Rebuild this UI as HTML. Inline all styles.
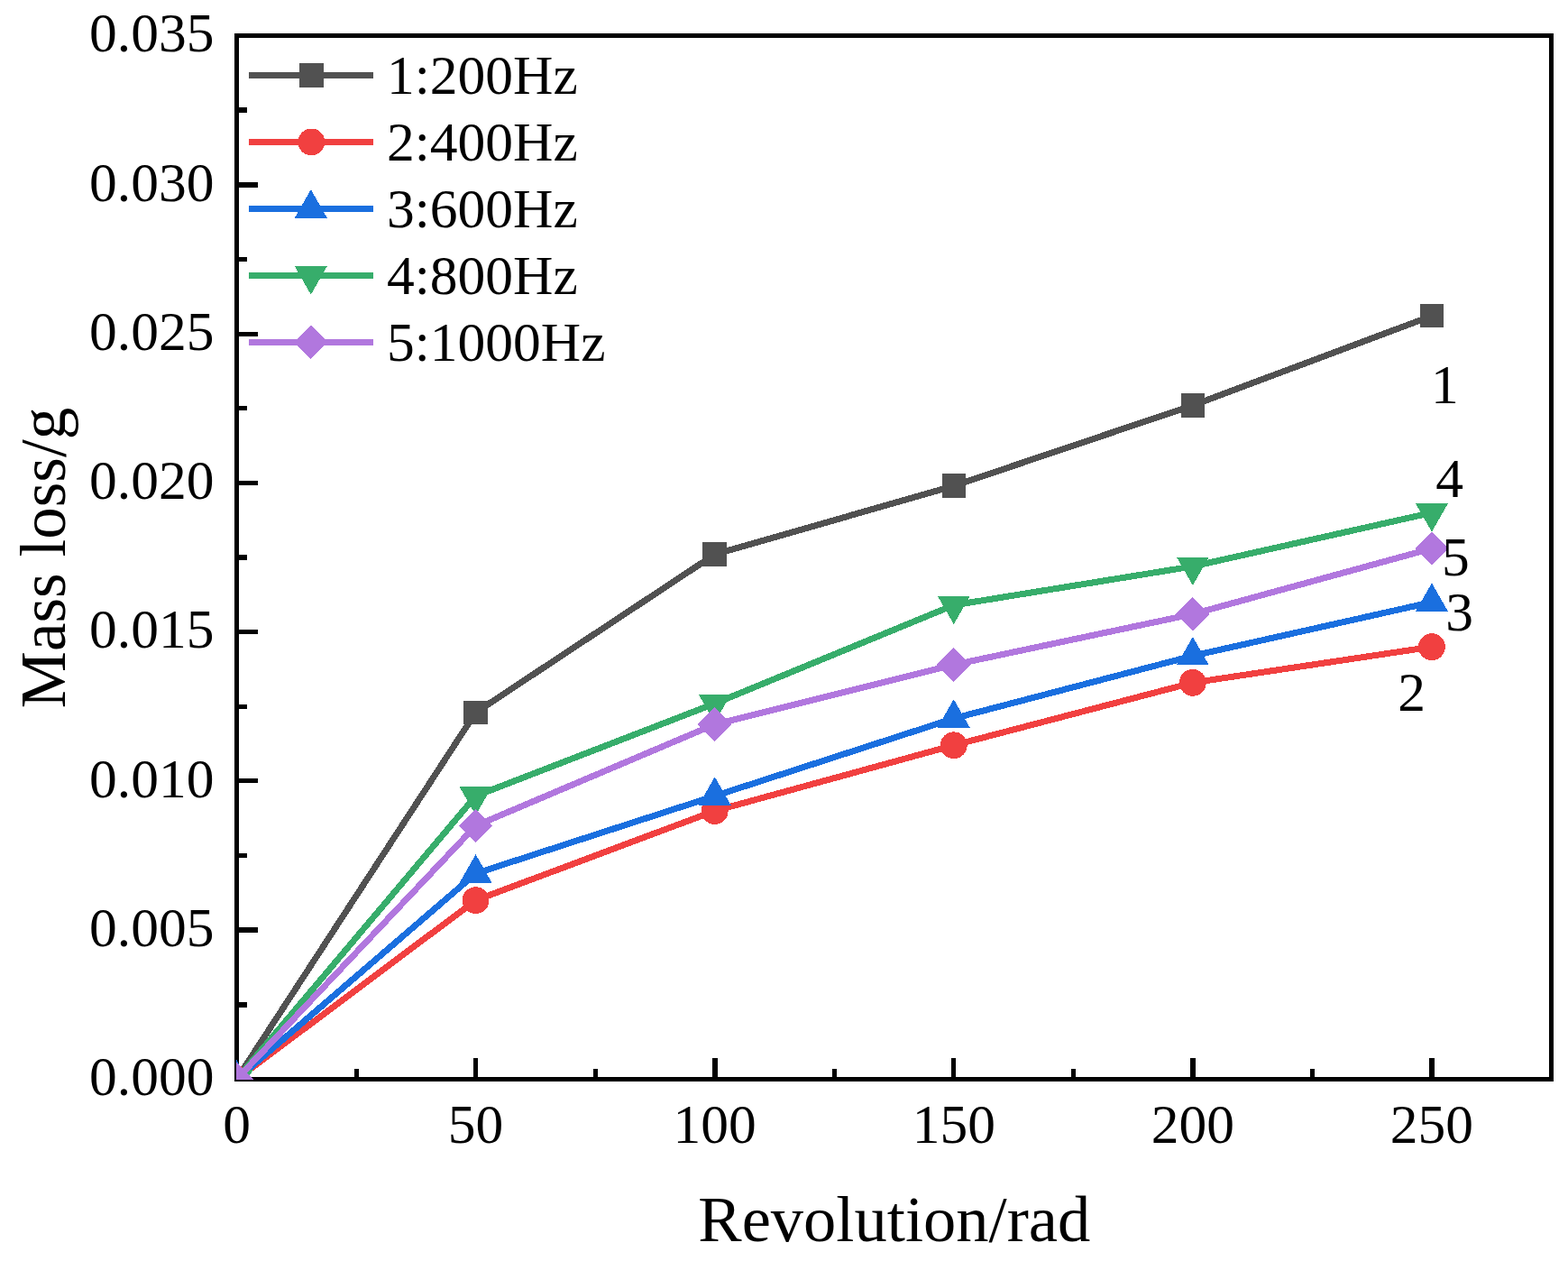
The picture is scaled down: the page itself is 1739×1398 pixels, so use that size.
<!DOCTYPE html>
<html lang="en"><head><meta charset="utf-8"><title>Mass loss vs revolution</title>
<style>html,body{margin:0;padding:0;background:#fff;}body{width:1739px;height:1398px;overflow:hidden;}svg{display:block;}text{font-family:'Liberation Serif', serif;fill:#000;}</style>
</head><body>
<svg width="1739" height="1398" viewBox="0 0 1739 1398">
<rect x="0" y="0" width="1739" height="1398" fill="#ffffff"/>
<g id="axes" shape-rendering="crispEdges">
<rect x="262.5" y="39.5" width="1458" height="1157" fill="none" stroke="#000" stroke-width="5"/>
<rect x="393" y="1185" width="5" height="11" fill="#000"/>
<rect x="525" y="1173" width="5" height="23" fill="#000"/>
<rect x="658" y="1185" width="5" height="11" fill="#000"/>
<rect x="790" y="1173" width="6" height="23" fill="#000"/>
<rect x="923" y="1185" width="5" height="11" fill="#000"/>
<rect x="1055" y="1173" width="5" height="23" fill="#000"/>
<rect x="1188" y="1185" width="5" height="11" fill="#000"/>
<rect x="1320" y="1173" width="6" height="23" fill="#000"/>
<rect x="1453" y="1185" width="5" height="11" fill="#000"/>
<rect x="1585" y="1173" width="6" height="23" fill="#000"/>
<rect x="263" y="1111" width="11" height="6" fill="#000"/>
<rect x="263" y="1028" width="23" height="6" fill="#000"/>
<rect x="263" y="946" width="11" height="5" fill="#000"/>
<rect x="263" y="863" width="23" height="5" fill="#000"/>
<rect x="263" y="781" width="11" height="5" fill="#000"/>
<rect x="263" y="698" width="23" height="5" fill="#000"/>
<rect x="263" y="615" width="11" height="6" fill="#000"/>
<rect x="263" y="533" width="23" height="5" fill="#000"/>
<rect x="263" y="450" width="11" height="5" fill="#000"/>
<rect x="263" y="368" width="23" height="5" fill="#000"/>
<rect x="263" y="285" width="11" height="5" fill="#000"/>
<rect x="263" y="202" width="23" height="6" fill="#000"/>
<rect x="263" y="119" width="11" height="6" fill="#000"/>
</g>
<g id="ticklabels" font-size="61.5">
<text x="262.5" y="1267" text-anchor="middle">0</text>
<text x="527.59" y="1267" text-anchor="middle">50</text>
<text x="792.68" y="1267" text-anchor="middle">100</text>
<text x="1057.77" y="1267" text-anchor="middle">150</text>
<text x="1322.86" y="1267" text-anchor="middle">200</text>
<text x="1587.95" y="1267" text-anchor="middle">250</text>
<text x="237.4" y="1214.3" text-anchor="end">0.000</text>
<text x="237.4" y="1049.01" text-anchor="end">0.005</text>
<text x="237.4" y="883.73" text-anchor="end">0.010</text>
<text x="237.4" y="718.44" text-anchor="end">0.015</text>
<text x="237.4" y="553.16" text-anchor="end">0.020</text>
<text x="237.4" y="387.87" text-anchor="end">0.025</text>
<text x="237.4" y="222.59" text-anchor="end">0.030</text>
<text x="237.4" y="57.3" text-anchor="end">0.035</text>
</g>
<text x="991.8" y="1375.6" font-size="72.5" text-anchor="middle">Revolution/rad</text>
<text transform="translate(72.1 618.5) rotate(-90) scale(0.98 1)" font-size="72.5" text-anchor="middle">Mass loss/g</text>
<defs><clipPath id="plot"><rect x="262" y="39.5" width="1458.5" height="1157.5"/></clipPath></defs>
<g id="data" clip-path="url(#plot)" shape-rendering="crispEdges">
<polyline points="262.5,1196.5 527.59,789.9 792.68,614.69 1057.77,538.66 1322.86,449.41 1587.95,350.24" fill="none" stroke="#515151" stroke-width="7" stroke-linejoin="round"/>
<rect x="249.25" y="1183.25" width="26.5" height="26.5" fill="#515151"/>
<rect x="514.34" y="776.65" width="26.5" height="26.5" fill="#515151"/>
<rect x="779.43" y="601.44" width="26.5" height="26.5" fill="#515151"/>
<rect x="1044.52" y="525.41" width="26.5" height="26.5" fill="#515151"/>
<rect x="1309.61" y="436.16" width="26.5" height="26.5" fill="#515151"/>
<rect x="1574.7" y="336.99" width="26.5" height="26.5" fill="#515151"/>
<polyline points="262.5,1196.5 527.59,998.16 792.68,898.99 1057.77,826.26 1322.86,756.84 1587.95,717.17" fill="none" stroke="#F14040" stroke-width="7" stroke-linejoin="round"/>
<circle cx="262.5" cy="1196.5" r="14.9" fill="#F14040"/>
<circle cx="527.59" cy="998.16" r="14.9" fill="#F14040"/>
<circle cx="792.68" cy="898.99" r="14.9" fill="#F14040"/>
<circle cx="1057.77" cy="826.26" r="14.9" fill="#F14040"/>
<circle cx="1322.86" cy="756.84" r="14.9" fill="#F14040"/>
<circle cx="1587.95" cy="717.17" r="14.9" fill="#F14040"/>
<polyline points="262.5,1196.5 527.59,968.41 792.68,882.46 1057.77,796.51 1322.86,727.09 1587.95,667.59" fill="none" stroke="#1A6FDF" stroke-width="7" stroke-linejoin="round"/>
<polygon points="262.5,1175.3 280.5,1206.8 244.5,1206.8" fill="#1A6FDF"/>
<polygon points="527.59,947.21 545.59,978.71 509.59,978.71" fill="#1A6FDF"/>
<polygon points="792.68,861.26 810.68,892.76 774.68,892.76" fill="#1A6FDF"/>
<polygon points="1057.77,775.31 1075.77,806.81 1039.77,806.81" fill="#1A6FDF"/>
<polygon points="1322.86,705.89 1340.86,737.39 1304.86,737.39" fill="#1A6FDF"/>
<polygon points="1587.95,646.39 1605.95,677.89 1569.95,677.89" fill="#1A6FDF"/>
<polyline points="262.5,1196.5 527.59,882.46 792.68,779.98 1057.77,670.89 1322.86,627.92 1587.95,568.41" fill="none" stroke="#37AD6B" stroke-width="7" stroke-linejoin="round"/>
<polygon points="262.5,1217.7 280.5,1186.2 244.5,1186.2" fill="#37AD6B"/>
<polygon points="527.59,903.66 545.59,872.16 509.59,872.16" fill="#37AD6B"/>
<polygon points="792.68,801.18 810.68,769.68 774.68,769.68" fill="#37AD6B"/>
<polygon points="1057.77,692.09 1075.77,660.59 1039.77,660.59" fill="#37AD6B"/>
<polygon points="1322.86,649.12 1340.86,617.62 1304.86,617.62" fill="#37AD6B"/>
<polygon points="1587.95,589.61 1605.95,558.11 1569.95,558.11" fill="#37AD6B"/>
<polyline points="262.5,1196.5 527.59,915.51 792.68,803.12 1057.77,737.01 1322.86,680.81 1587.95,608.08" fill="none" stroke="#B177DE" stroke-width="7" stroke-linejoin="round"/>
<polygon points="262.5,1177.7 281.3,1196.5 262.5,1215.3 243.7,1196.5" fill="#B177DE"/>
<polygon points="527.59,896.71 546.39,915.51 527.59,934.31 508.79,915.51" fill="#B177DE"/>
<polygon points="792.68,784.32 811.48,803.12 792.68,821.92 773.88,803.12" fill="#B177DE"/>
<polygon points="1057.77,718.21 1076.57,737.01 1057.77,755.81 1038.97,737.01" fill="#B177DE"/>
<polygon points="1322.86,662.01 1341.66,680.81 1322.86,699.61 1304.06,680.81" fill="#B177DE"/>
<polygon points="1587.95,589.28 1606.75,608.08 1587.95,626.88 1569.15,608.08" fill="#B177DE"/>
</g>
<g id="legend" font-size="61.5" shape-rendering="crispEdges">
<line x1="276" y1="83.5" x2="414" y2="83.5" stroke="#515151" stroke-width="7"/>
<rect x="332.15" y="70.25" width="26.5" height="26.5" fill="#515151"/>
<text x="429" y="104.2">1:200Hz</text>
<line x1="276" y1="157.45" x2="414" y2="157.45" stroke="#F14040" stroke-width="7"/>
<circle cx="345.4" cy="157.45" r="14.9" fill="#F14040"/>
<text x="429" y="178.15">2:400Hz</text>
<line x1="276" y1="231.4" x2="414" y2="231.4" stroke="#1A6FDF" stroke-width="7"/>
<polygon points="344.8,210.2 362.8,241.7 326.8,241.7" fill="#1A6FDF"/>
<text x="429" y="252.1">3:600Hz</text>
<line x1="276" y1="305.35" x2="414" y2="305.35" stroke="#37AD6B" stroke-width="7"/>
<polygon points="344.8,326.55 362.8,295.05 326.8,295.05" fill="#37AD6B"/>
<text x="429" y="326.05">4:800Hz</text>
<line x1="276" y1="379.3" x2="414" y2="379.3" stroke="#B177DE" stroke-width="7"/>
<polygon points="344.8,360.5 363.6,379.3 344.8,398.1 326,379.3" fill="#B177DE"/>
<text x="429" y="400">5:1000Hz</text>
</g>
<g id="curvelabels" font-size="61.5" text-anchor="middle">
<text x="1602.4" y="447">1</text>
<text x="1607.5" y="550.8">4</text>
<text x="1614.3" y="638.2">5</text>
<text x="1618.6" y="698.5">3</text>
<text x="1565.6" y="787.7">2</text>
</g>
</svg>
</body></html>
